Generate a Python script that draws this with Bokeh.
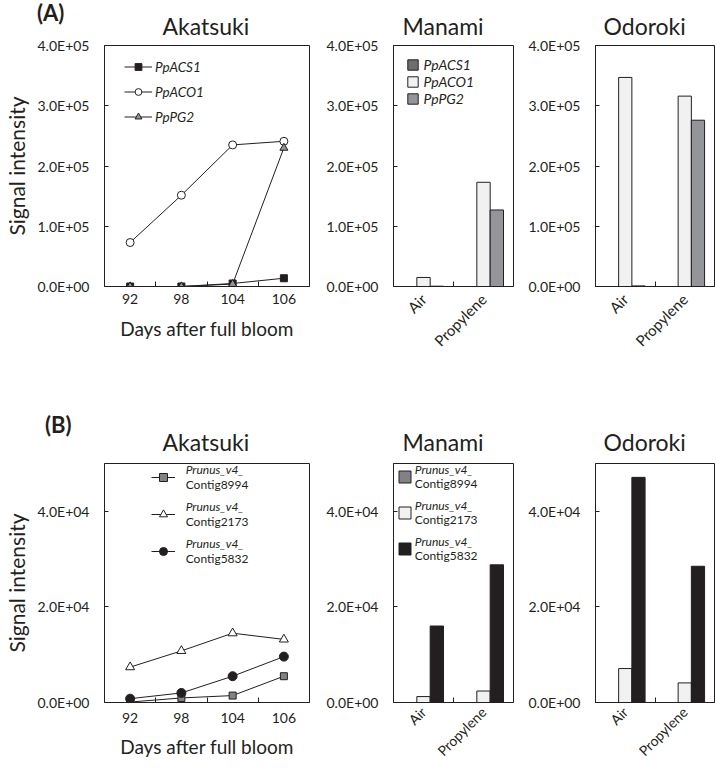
import numpy as np
from bokeh.plotting import figure
from bokeh.models import Range1d, FixedTicker, Legend, LegendItem, Div
from bokeh.layouts import row, column
from bokeh.embed import file_html
from bokeh.resources import INLINE

FONT = "Lato"
INK = "#231f20"

# ---------------- data ----------------
days = ["92", "98", "104", "106"]
treatments = ["Air", "Propylene"]
cultivars = ["Akatsuki", "Manami", "Odoroki"]

a_genes = ["PpACS1", "PpACO1", "PpPG2"]
a_akatsuki_acs1 = [0, 0, 5000, 13700]
a_akatsuki_aco1 = [73000, 151500, 235000, 241000]
a_akatsuki_pg2 = [0, 0, 4000, 230000]
a_manami_acs1 = [0, 0]
a_manami_aco1 = [15000, 173000]
a_manami_pg2 = [500, 127000]
a_odoroki_acs1 = [0, 0]
a_odoroki_aco1 = [347000, 316000]
a_odoroki_pg2 = [1000, 276000]
a_yticks = [0, 100000, 200000, 300000, 400000]
a_ytick_labels = ["0.0E+00", "1.0E+05", "2.0E+05", "3.0E+05", "4.0E+05"]

b_prefix = "Prunus_v4_"
b_contigs = ["Contig8994", "Contig2173", "Contig5832"]
b_akatsuki_8994 = [100, 950, 1450, 5500]
b_akatsuki_2173 = [7400, 10800, 14500, 13200]
b_akatsuki_5832 = [800, 2000, 5500, 9600]
b_manami_8994 = [0, 0]
b_manami_2173 = [1240, 2400]
b_manami_5832 = [16000, 28800]
b_odoroki_8994 = [0, 0]
b_odoroki_2173 = [7100, 4100]
b_odoroki_5832 = [47100, 28500]
b_yticks = [0, 20000, 40000]
b_ytick_labels = ["0.0E+00", "2.0E+04", "4.0E+04"]

panel_letters = ["(A)", "(B)"]

# ---------------- styles ----------------
A_BAR_COLORS = ["#6d6e71", "#f1f1f2", "#939598"]
B_BAR_COLORS = ["#808285", "#f1f1f2", "#231f20"]
ROW_A_H = 388
ROW_B_H = 380


def make_fig(width, height, left, right, top, bottom, ncat, ymax):
    p = figure(width=width, height=height, x_range=Range1d(0, ncat), y_range=Range1d(0, ymax),
               output_backend="svg", toolbar_location=None,
               min_border_left=left, min_border_right=right,
               min_border_top=top, min_border_bottom=bottom)
    p.grid.visible = False
    p.outline_line_color = INK
    p.outline_line_alpha = 1.0
    p.outline_line_width = 1
    p.background_fill_color = "white"
    p.border_fill_color = "white"
    return p


def set_title(p, text, offset, standoff):
    p.title.text = text
    p.title.align = "left"
    p.title.offset = offset
    p.title.standoff = standoff
    p.title.text_font = FONT
    p.title.text_font_size = "23px"
    p.title.text_font_style = "normal"
    p.title.text_color = INK


def style_y(p, ticks, labels, standoff=15, label=None):
    ax = p.yaxis[0]
    ax.ticker = FixedTicker(ticks=ticks, minor_ticks=[])
    ax.major_label_overrides = dict(zip(ticks, labels))
    ax.major_tick_in = 4
    ax.major_tick_out = 0
    ax.minor_tick_line_color = None
    ax.major_tick_line_color = INK
    ax.axis_line_color = INK
    ax.major_label_text_font = FONT
    ax.major_label_text_font_size = "14px"
    ax.major_label_text_color = INK
    ax.major_label_standoff = standoff
    if label:
        ax.axis_label = label
        ax.axis_label_text_font = FONT
        ax.axis_label_text_font_size = "21px"
        ax.axis_label_text_font_style = "normal"
        ax.axis_label_text_color = INK
        ax.axis_label_standoff = 6


def style_x(p, labels, size, standoff, orientation=None, label=None, label_standoff=8):
    ax = p.xaxis[0]
    centers = [i + 0.5 for i in range(len(labels))]
    ax.ticker = FixedTicker(ticks=centers, minor_ticks=list(range(1, len(labels))))
    ax.major_label_overrides = dict(zip(centers, labels))
    ax.major_tick_line_color = None
    ax.major_tick_in = 0
    ax.major_tick_out = 0
    ax.minor_tick_in = 5
    ax.minor_tick_out = 0
    ax.minor_tick_line_color = INK
    ax.axis_line_color = INK
    ax.major_label_text_font = FONT
    ax.major_label_text_font_size = size
    ax.major_label_text_color = INK
    ax.major_label_standoff = standoff
    if orientation is not None:
        ax.major_label_orientation = orientation
    if label:
        ax.axis_label = label
        ax.axis_label_text_font = FONT
        ax.axis_label_text_font_size = "19px"
        ax.axis_label_text_font_style = "normal"
        ax.axis_label_text_color = INK
        ax.axis_label_standoff = label_standoff


def letter_div(text, top, bottom, left):
    return Div(text=text, width=40, height=24, margin=(top, 0, bottom, left),
               styles={"font-family": FONT, "font-size": "22px", "font-weight": "bold",
                       "color": INK, "line-height": "24px"})


def add_bars(p, series, colors):
    centers = np.arange(len(treatments)) + 0.5
    w = 2.0 / 9.0
    rs = []
    for j, (vals, col) in enumerate(zip(series, colors)):
        r = p.vbar(x=centers + (j - 1) * w, top=vals, width=w, bottom=0,
                   fill_color=col, line_color=INK, line_width=1)
        rs.append(r)
    return rs


LEG_BASE = dict(padding=0, margin=0, label_text_font=FONT, label_text_color=INK,
                background_fill_alpha=0, border_line_color=None)


def two_line_legend(p, glyph_sets, loc, gw, gh, spacing, standoff, dy):
    dummies = [p.scatter(x=[], y=[], fill_alpha=0, line_alpha=0) for _ in glyph_sets]
    geo = dict(spacing=spacing, glyph_width=gw, glyph_height=gh, label_height=gh,
               label_standoff=standoff, label_text_font_size="12px", **LEG_BASE)
    p.add_layout(Legend(items=[LegendItem(label=" ", renderers=rs) for rs in glyph_sets],
                        location=loc, **geo))
    p.add_layout(Legend(items=[LegendItem(label=b_prefix, renderers=[d]) for d in dummies],
                        location=(loc[0], loc[1] + dy), label_text_font_style="italic", **geo))
    p.add_layout(Legend(items=[LegendItem(label=n, renderers=[d]) for n, d in zip(b_contigs, dummies)],
                        location=(loc[0], loc[1] - dy), label_text_font_style="normal", **geo))


# ---------------- panel A ----------------
xA = np.arange(len(days)) + 0.5

pA1 = make_fig(320, ROW_A_H, 100, 11, 44, 102, len(days), 400000)
set_title(pA1, cultivars[0], 58, 12)
style_y(pA1, a_yticks, a_ytick_labels, standoff=15, label="Signal intensity")
style_x(pA1, days, "14px", 7, label="Days after full bloom", label_standoff=10)
a_line_specs = [
    (a_akatsuki_acs1, "square", 7, INK),
    (a_akatsuki_aco1, "circle", 8, "white"),
    (a_akatsuki_pg2, "triangle", 8, "#939598"),
]
a_items = []
for name, (vals, mk, sz, fc) in zip(a_genes, a_line_specs):
    lr = pA1.line(xA, vals, line_color=INK, line_width=1)
    sr = pA1.scatter(xA, vals, marker=mk, size=sz, fill_color=fc, line_color=INK, line_width=1)
    a_items.append(LegendItem(label=name, renderers=[lr, sr]))
pA1.add_layout(Legend(items=a_items, location=(20, 161), spacing=8,
                      glyph_width=28, glyph_height=17, label_height=17, label_standoff=3,
                      label_text_font_size="13.5px", label_text_font_style="italic", **LEG_BASE))

pA2 = make_fig(203, ROW_A_H, 73, 10, 45, 98, len(treatments), 400000)
set_title(pA2, cultivars[1], 9, 12)
style_y(pA2, a_yticks, a_ytick_labels)
style_x(pA2, treatments, "15px", 10, orientation=np.pi / 4)
rA2 = add_bars(pA2, [a_manami_acs1, a_manami_aco1, a_manami_pg2], A_BAR_COLORS)
pA2.add_layout(Legend(items=[LegendItem(label=n, renderers=[r]) for n, r in zip(a_genes, rA2)],
                      location=(12.5, 179), spacing=0,
                      glyph_width=13, glyph_height=13, label_height=13, label_standoff=5,
                      label_text_font_size="14px", label_text_font_style="italic", **LEG_BASE))

pA3 = make_fig(192, ROW_A_H, 72, 1, 45, 98, len(treatments), 400000)
set_title(pA3, cultivars[2], 8, 12)
style_y(pA3, a_yticks, a_ytick_labels)
style_x(pA3, treatments, "15px", 10, orientation=np.pi / 4)
add_bars(pA3, [a_odoroki_acs1, a_odoroki_aco1, a_odoroki_pg2], A_BAR_COLORS)

# ---------------- panel B ----------------
pB1 = make_fig(320, ROW_B_H, 100, 11, 74, 64, len(days), 50000)
set_title(pB1, cultivars[0], 58, 16)
style_y(pB1, b_yticks, b_ytick_labels, standoff=15, label="Signal intensity")
style_x(pB1, days, "14px", 10, label="Days after full bloom", label_standoff=9)
b_line_specs = [
    (b_akatsuki_8994, "square", 7, "#808285"),
    (b_akatsuki_2173, "triangle", 9, "white"),
    (b_akatsuki_5832, "circle", 9, INK),
]
b_sets = []
for vals, mk, sz, fc in b_line_specs:
    lr = pB1.line(xA, vals, line_color=INK, line_width=1)
    sr = pB1.scatter(xA, vals, marker=mk, size=sz, fill_color=fc, line_color=INK, line_width=1)
    b_sets.append([lr, sr])
two_line_legend(pB1, b_sets, (46.7, 141), 24, 20, 17, 11, 7.5)

pB2 = make_fig(203, ROW_B_H, 73, 10, 75, 65, len(treatments), 50000)
set_title(pB2, cultivars[1], 9, 16)
style_y(pB2, b_yticks, b_ytick_labels)
style_x(pB2, treatments, "14px", 7, orientation=np.pi / 4)
rB2 = add_bars(pB2, [b_manami_8994, b_manami_2173, b_manami_5832], B_BAR_COLORS)
two_line_legend(pB2, [[r] for r in rB2], (3.8, 146), 15, 15, 21, 3, 7)

pB3 = make_fig(192, ROW_B_H, 72, 1, 73, 64, len(treatments), 50000)
set_title(pB3, cultivars[2], 8, 16)
style_y(pB3, b_yticks, b_ytick_labels)
style_x(pB3, treatments, "14px", 7, orientation=np.pi / 4)
add_bars(pB3, [b_odoroki_8994, b_odoroki_2173, b_odoroki_5832], B_BAR_COLORS)

# panel letters as overlaid text blocks
div_a = letter_div(panel_letters[0], -ROW_A_H + 1, ROW_A_H - 1 - 24, 37)
div_b = letter_div(panel_letters[1], -ROW_B_H + 25, ROW_B_H - 25 - 24, 45)

layout = column(row(pA1, pA2, pA3), div_a, row(pB1, pB2, pB3), div_b)
open("out.html", "w").write(file_html(layout, INLINE))
